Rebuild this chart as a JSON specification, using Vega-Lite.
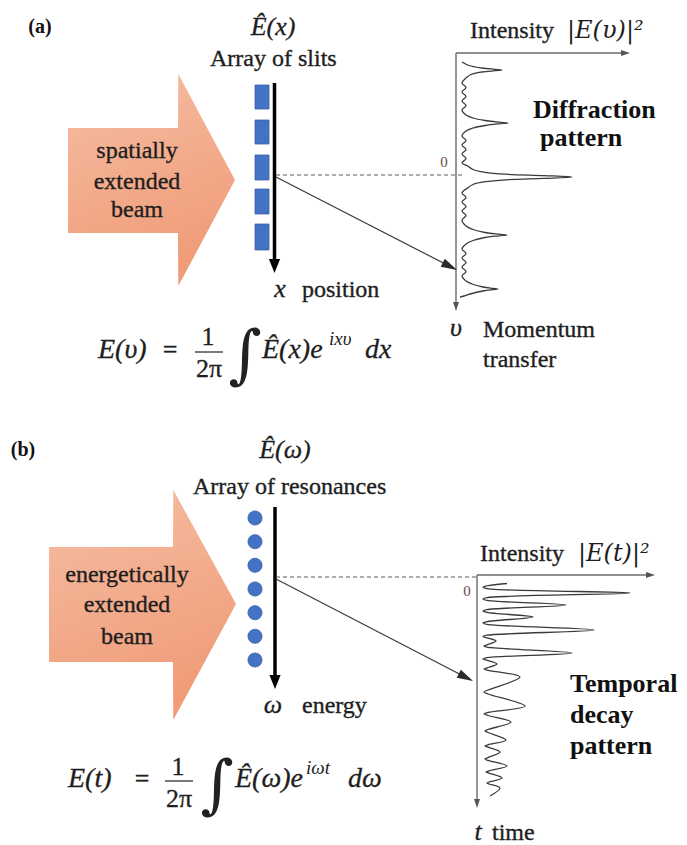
{
  "$schema": "https://vega.github.io/schema/vega-lite/v6.json",
  "width": 687,
  "height": 845,
  "autosize": {"type": "fit", "contains": "padding"},
  "padding": 0,
  "background": "white",
  "config": {"view": {"stroke": null}},
  "encoding": {
    "x": {"field": "x", "type": "quantitative", "scale": {"domain": [0, 687], "nice": false, "zero": false}, "axis": null},
    "y": {"field": "y", "type": "quantitative", "scale": {"domain": [0, 845], "nice": false, "zero": false, "reverse": true}, "axis": null}
  },
  "datasets": {
    "beam": [
      {"panel": "a", "x": 68, "y": 128, "y2": 233},
      {"panel": "a", "x": 178, "y": 128, "y2": 233},
      {"panel": "a", "x": 178.3, "y": 74, "y2": 286},
      {"panel": "a", "x": 235, "y": 180, "y2": 180},
      {"panel": "b", "x": 49, "y": 547, "y2": 662},
      {"panel": "b", "x": 173, "y": 547, "y2": 662},
      {"panel": "b", "x": 173.3, "y": 490, "y2": 720},
      {"panel": "b", "x": 236, "y": 604, "y2": 604}
    ],
    "slits": [
      {"x": 255, "x2": 269, "y": 85, "y2": 109},
      {"x": 255, "x2": 269, "y": 120, "y2": 144},
      {"x": 255, "x2": 269, "y": 155, "y2": 180},
      {"x": 255, "x2": 269, "y": 189, "y2": 214},
      {"x": 255, "x2": 269, "y": 224, "y2": 250}
    ],
    "resonances": [
      {"x": 255, "y": 518}, {"x": 255, "y": 541.7}, {"x": 255, "y": 565.3},
      {"x": 255, "y": 589}, {"x": 255, "y": 612.7}, {"x": 255, "y": 636.3},
      {"x": 255, "y": 660}
    ],
    "shafts": [
      {"x": 274.5, "y": 83, "x2": 274.5, "y2": 262},
      {"x": 275, "y": 507, "x2": 275, "y2": 678}
    ],
    "rays": [
      {"x": 276, "y": 177, "x2": 455, "y2": 269},
      {"x": 276, "y": 579, "x2": 471, "y2": 680}
    ],
    "guides": [
      {"x": 276, "y": 175, "x2": 463, "y2": 175},
      {"x": 276, "y": 577, "x2": 477, "y2": 577}
    ],
    "axes": [
      {"x": 456, "y": 53, "x2": 456, "y2": 304},
      {"x": 456, "y": 53, "x2": 624, "y2": 53},
      {"x": 477, "y": 575, "x2": 477, "y2": 801},
      {"x": 477, "y": 575, "x2": 649, "y2": 575}
    ],
    "fractionBars": [
      {"x": 195, "y": 352, "x2": 223, "y2": 352},
      {"x": 165, "y": 781, "x2": 193, "y2": 781}
    ],
    "shaftHeads": [{"x": 274.5, "y": 273}, {"x": 275, "y": 689}],
    "rayHeads": [{"x": 457, "y": 270}, {"x": 473, "y": 681}],
    "axisHeadsRight": [{"x": 630, "y": 53}, {"x": 655, "y": 575}],
    "axisHeadsDown": [{"x": 456, "y": 311}, {"x": 477, "y": 808}],
    "diffraction": [
      {"i": 1, "x": 462, "y": 62}, {"i": 2, "x": 469, "y": 65.5}, {"i": 3, "x": 482, "y": 68},
      {"i": 4, "x": 495, "y": 69.3}, {"i": 5, "x": 502, "y": 70}, {"i": 6, "x": 495, "y": 70.7},
      {"i": 7, "x": 482, "y": 72}, {"i": 8, "x": 471, "y": 74.5}, {"i": 9, "x": 466, "y": 78},
      {"i": 10, "x": 462, "y": 83}, {"i": 11, "x": 466, "y": 87.5}, {"i": 12, "x": 462, "y": 92},
      {"i": 13, "x": 466, "y": 96.5}, {"i": 14, "x": 462, "y": 101}, {"i": 15, "x": 466, "y": 105.5},
      {"i": 16, "x": 462, "y": 110}, {"i": 17, "x": 466, "y": 115}, {"i": 18, "x": 473, "y": 118},
      {"i": 19, "x": 485, "y": 120.5}, {"i": 20, "x": 499, "y": 122.2}, {"i": 21, "x": 508, "y": 123},
      {"i": 22, "x": 499, "y": 123.8}, {"i": 23, "x": 485, "y": 125.5}, {"i": 24, "x": 473, "y": 128},
      {"i": 25, "x": 466, "y": 131}, {"i": 26, "x": 462, "y": 136}, {"i": 27, "x": 466, "y": 140.5},
      {"i": 28, "x": 462, "y": 145}, {"i": 29, "x": 466, "y": 149.5}, {"i": 30, "x": 462, "y": 154},
      {"i": 31, "x": 466, "y": 158.5}, {"i": 32, "x": 462, "y": 163}, {"i": 33, "x": 467.6, "y": 166},
      {"i": 34, "x": 473, "y": 169.5}, {"i": 35, "x": 485, "y": 172.3}, {"i": 36, "x": 508, "y": 174.3},
      {"i": 37, "x": 544, "y": 175.6}, {"i": 38, "x": 572, "y": 177}, {"i": 39, "x": 544, "y": 178.4},
      {"i": 40, "x": 508, "y": 179.7}, {"i": 41, "x": 485, "y": 181.7}, {"i": 42, "x": 473, "y": 184.5},
      {"i": 43, "x": 467.6, "y": 188}, {"i": 44, "x": 462, "y": 193}, {"i": 45, "x": 466, "y": 197.5},
      {"i": 46, "x": 462, "y": 202}, {"i": 47, "x": 466, "y": 206.5}, {"i": 48, "x": 462, "y": 211},
      {"i": 49, "x": 466, "y": 215.5}, {"i": 50, "x": 462, "y": 220}, {"i": 51, "x": 466, "y": 226},
      {"i": 52, "x": 473, "y": 229.5}, {"i": 53, "x": 485, "y": 232.5}, {"i": 54, "x": 499, "y": 234.2},
      {"i": 55, "x": 507, "y": 235}, {"i": 56, "x": 499, "y": 235.8}, {"i": 57, "x": 485, "y": 237.5},
      {"i": 58, "x": 473, "y": 240.5}, {"i": 59, "x": 466, "y": 244}, {"i": 60, "x": 462, "y": 249},
      {"i": 61, "x": 466, "y": 253.5}, {"i": 62, "x": 462, "y": 258}, {"i": 63, "x": 466, "y": 262.5},
      {"i": 64, "x": 462, "y": 267}, {"i": 65, "x": 466, "y": 271.5}, {"i": 66, "x": 462, "y": 276},
      {"i": 67, "x": 466, "y": 281}, {"i": 68, "x": 472, "y": 284}, {"i": 69, "x": 483, "y": 287},
      {"i": 70, "x": 493, "y": 288.4}, {"i": 71, "x": 498, "y": 289}, {"i": 72, "x": 493, "y": 289.6},
      {"i": 73, "x": 483, "y": 291}, {"i": 74, "x": 472, "y": 293.5}, {"i": 75, "x": 464, "y": 296},
      {"i": 76, "x": 460, "y": 297}
    ],
    "decay": [
      {"i": 1, "x": 507, "y": 583.5}, {"i": 2, "x": 490, "y": 585.3}, {"i": 3, "x": 483, "y": 587},
      {"i": 4, "x": 487, "y": 588.6}, {"i": 5, "x": 630, "y": 593}, {"i": 6, "x": 487, "y": 597.6},
      {"i": 7, "x": 483, "y": 599}, {"i": 8, "x": 487, "y": 600.4}, {"i": 9, "x": 566, "y": 605},
      {"i": 10, "x": 487, "y": 609.6}, {"i": 11, "x": 483, "y": 611}, {"i": 12, "x": 487, "y": 612.4},
      {"i": 13, "x": 533, "y": 617}, {"i": 14, "x": 487, "y": 621.6}, {"i": 15, "x": 483, "y": 623},
      {"i": 16, "x": 487, "y": 624.4}, {"i": 17, "x": 594, "y": 630}, {"i": 18, "x": 487, "y": 635.2},
      {"i": 19, "x": 483, "y": 636.5}, {"i": 20, "x": 487, "y": 637.8}, {"i": 21, "x": 496, "y": 641},
      {"i": 22, "x": 487, "y": 644.8}, {"i": 23, "x": 484, "y": 646}, {"i": 24, "x": 487, "y": 647.2},
      {"i": 25, "x": 572, "y": 653}, {"i": 26, "x": 487, "y": 657.7}, {"i": 27, "x": 483, "y": 659},
      {"i": 28, "x": 487, "y": 660.3}, {"i": 29, "x": 497, "y": 664}, {"i": 30, "x": 487, "y": 667.8},
      {"i": 31, "x": 484, "y": 669}, {"i": 32, "x": 487, "y": 670.2}, {"i": 33, "x": 520, "y": 677},
      {"i": 34, "x": 488, "y": 690}, {"i": 35, "x": 484, "y": 692}, {"i": 36, "x": 488, "y": 694},
      {"i": 37, "x": 525, "y": 706}, {"i": 38, "x": 488, "y": 712.5}, {"i": 39, "x": 484, "y": 714},
      {"i": 40, "x": 488, "y": 715.5}, {"i": 41, "x": 511, "y": 722}, {"i": 42, "x": 488, "y": 729.5},
      {"i": 43, "x": 485, "y": 731}, {"i": 44, "x": 488, "y": 732.5}, {"i": 45, "x": 506, "y": 740},
      {"i": 46, "x": 488, "y": 744.8}, {"i": 47, "x": 485, "y": 746}, {"i": 48, "x": 488, "y": 747.2},
      {"i": 49, "x": 500, "y": 752}, {"i": 50, "x": 488, "y": 757.6}, {"i": 51, "x": 485, "y": 759},
      {"i": 52, "x": 488, "y": 760.4}, {"i": 53, "x": 507, "y": 766}, {"i": 54, "x": 489, "y": 770.8},
      {"i": 55, "x": 486, "y": 772}, {"i": 56, "x": 489, "y": 773.2}, {"i": 57, "x": 502, "y": 778},
      {"i": 58, "x": 489, "y": 782}, {"i": 59, "x": 487, "y": 783}, {"i": 60, "x": 489, "y": 784},
      {"i": 61, "x": 500, "y": 788}, {"i": 62, "x": 490, "y": 796}
    ],
    "panelTags": [
      {"x": 40, "y": 33, "text": "(a)"},
      {"x": 23, "y": 456, "text": "(b)"}
    ],
    "beamText": [
      {"x": 137, "y": 158, "text": "spatially"},
      {"x": 137, "y": 189, "text": "extended"},
      {"x": 137, "y": 217, "text": "beam"},
      {"x": 127, "y": 582, "text": "energetically"},
      {"x": 127, "y": 612, "text": "extended"},
      {"x": 127, "y": 644, "text": "beam"}
    ],
    "plainText": [
      {"x": 210, "y": 66, "text": "Array of slits"},
      {"x": 302, "y": 297, "text": "position"},
      {"x": 470, "y": 38, "text": "Intensity"},
      {"x": 483, "y": 337, "text": "Momentum"},
      {"x": 483, "y": 367, "text": "transfer"},
      {"x": 193, "y": 494, "text": "Array of resonances"},
      {"x": 302, "y": 713, "text": "energy"},
      {"x": 480, "y": 561, "text": "Intensity"},
      {"x": 492, "y": 840, "text": "time"}
    ],
    "boldText": [
      {"x": 533, "y": 118, "text": "Diffraction"},
      {"x": 540, "y": 146, "text": "pattern"},
      {"x": 570, "y": 692, "text": "Temporal"},
      {"x": 570, "y": 723, "text": "decay"},
      {"x": 570, "y": 754, "text": "pattern"}
    ],
    "mathSymbols": [
      {"x": 273, "y": 35, "text": "Ê(x)"},
      {"x": 285, "y": 458, "text": "Ê(ω)"},
      {"x": 280, "y": 297, "text": "x"},
      {"x": 273, "y": 713, "text": "ω"},
      {"x": 456, "y": 336, "text": "υ"},
      {"x": 478, "y": 840, "text": "t"}
    ],
    "intensityMath": [
      {"x": 567, "y": 38, "text": "|E(υ)|²"},
      {"x": 578, "y": 561, "text": "|E(t)|²"}
    ],
    "formulaItalic": [
      {"x": 98, "y": 358, "text": "E(υ)"},
      {"x": 262, "y": 358, "text": "Ê(x)e"},
      {"x": 365, "y": 358, "text": "dx"},
      {"x": 68, "y": 787, "text": "E(t)"},
      {"x": 235, "y": 787, "text": "Ê(ω)e"},
      {"x": 348, "y": 787, "text": "dω"}
    ],
    "formulaExponent": [
      {"x": 329, "y": 345, "text": "ixυ"},
      {"x": 306, "y": 774, "text": "iωt"}
    ],
    "formulaUpright": [
      {"x": 170, "y": 358, "text": "="},
      {"x": 208, "y": 345, "text": "1"},
      {"x": 209, "y": 377, "text": "2π"},
      {"x": 142, "y": 787, "text": "="},
      {"x": 178, "y": 775, "text": "1"},
      {"x": 179, "y": 807, "text": "2π"}
    ],
    "integrals": [
      {"x": 245, "y": 376, "text": "∫"},
      {"x": 217, "y": 806, "text": "∫"}
    ],
    "origins": [
      {"x": 444, "y": 167, "text": "0"},
      {"x": 467, "y": 596, "text": "0"}
    ]
  },
  "layer": [
    {
      "data": {"name": "beam"},
      "transform": [{"filter": "datum.panel === 'a'"}],
      "mark": {"type": "area", "opacity": 1, "color": {"gradient": "linear", "x1": 0, "y1": 0, "x2": 0.3, "y2": 1, "stops": [{"offset": 0, "color": "#F6BEA4"}, {"offset": 1, "color": "#F09C79"}]}},
      "encoding": {"y2": {"field": "y2"}}
    },
    {
      "data": {"name": "beam"},
      "transform": [{"filter": "datum.panel === 'b'"}],
      "mark": {"type": "area", "opacity": 1, "color": {"gradient": "linear", "x1": 0, "y1": 0, "x2": 0.3, "y2": 1, "stops": [{"offset": 0, "color": "#F6BEA4"}, {"offset": 1, "color": "#F09C79"}]}},
      "encoding": {"y2": {"field": "y2"}}
    },
    {
      "data": {"name": "slits"},
      "mark": {"type": "rect", "color": "#4472C4", "stroke": "#3960A8", "strokeWidth": 0.8},
      "encoding": {"x2": {"field": "x2"}, "y2": {"field": "y2"}}
    },
    {
      "data": {"name": "resonances"},
      "mark": {"type": "point", "shape": "circle", "filled": true, "opacity": 1, "size": 200, "color": "#4472C4", "stroke": "#3960A8", "strokeWidth": 0.8}
    },
    {
      "data": {"name": "shafts"},
      "mark": {"type": "rule", "color": "#000000", "strokeWidth": 3.5},
      "encoding": {"x2": {"field": "x2"}, "y2": {"field": "y2"}}
    },
    {
      "data": {"name": "rays"},
      "mark": {"type": "rule", "color": "#3a3a3a", "strokeWidth": 1.2},
      "encoding": {"x2": {"field": "x2"}, "y2": {"field": "y2"}}
    },
    {
      "data": {"name": "guides"},
      "mark": {"type": "rule", "color": "#5a5a5a", "strokeWidth": 1, "strokeDash": [4, 3]},
      "encoding": {"x2": {"field": "x2"}, "y2": {"field": "y2"}}
    },
    {
      "data": {"name": "axes"},
      "mark": {"type": "rule", "color": "#6a6a6a", "strokeWidth": 1.4},
      "encoding": {"x2": {"field": "x2"}, "y2": {"field": "y2"}}
    },
    {
      "data": {"name": "fractionBars"},
      "mark": {"type": "rule", "color": "#222222", "strokeWidth": 1.2},
      "encoding": {"x2": {"field": "x2"}, "y2": {"field": "y2"}}
    },
    {
      "data": {"name": "diffraction"},
      "mark": {"type": "line", "interpolate": "catmull-rom", "color": "#3a3a3a", "strokeWidth": 1.3},
      "encoding": {"order": {"field": "i", "type": "quantitative"}}
    },
    {
      "data": {"name": "decay"},
      "mark": {"type": "line", "interpolate": "catmull-rom", "color": "#3a3a3a", "strokeWidth": 1.3},
      "encoding": {"order": {"field": "i", "type": "quantitative"}}
    },
    {
      "data": {"name": "shaftHeads"},
      "mark": {"type": "point", "shape": "M0,0L-0.4,-1L0.4,-1Z", "filled": true, "opacity": 1, "size": 784, "color": "#000000", "strokeWidth": 0}
    },
    {
      "data": {"name": "rayHeads"},
      "mark": {"type": "point", "shape": "M0,0L-1,-0.28L-1,0.28Z", "angle": 27.3, "filled": true, "opacity": 1, "size": 1024, "color": "#2a2a2a", "strokeWidth": 0}
    },
    {
      "data": {"name": "axisHeadsRight"},
      "mark": {"type": "point", "shape": "M0,0L-1,-0.33L-1,0.33Z", "filled": true, "opacity": 1, "size": 324, "color": "#555555", "strokeWidth": 0}
    },
    {
      "data": {"name": "axisHeadsDown"},
      "mark": {"type": "point", "shape": "M0,0L-0.33,-1L0.33,-1Z", "filled": true, "opacity": 1, "size": 324, "color": "#555555", "strokeWidth": 0}
    },
    {
      "data": {"name": "panelTags"},
      "mark": {"type": "text", "font": "Liberation Serif", "fontWeight": "bold", "fontSize": 20, "align": "center", "baseline": "alphabetic", "color": "#111111"},
      "encoding": {"text": {"field": "text"}}
    },
    {
      "data": {"name": "beamText"},
      "mark": {"type": "text", "font": "Liberation Serif", "fontSize": 24, "align": "center", "baseline": "alphabetic", "color": "#1e1e1e", "stroke": "#1e1e1e", "strokeWidth": 0.35},
      "encoding": {"text": {"field": "text"}}
    },
    {
      "data": {"name": "plainText"},
      "mark": {"type": "text", "font": "Liberation Serif", "fontSize": 24, "align": "left", "baseline": "alphabetic", "color": "#1e1e1e", "stroke": "#1e1e1e", "strokeWidth": 0.35},
      "encoding": {"text": {"field": "text"}}
    },
    {
      "data": {"name": "boldText"},
      "mark": {"type": "text", "font": "Liberation Serif", "fontWeight": "bold", "fontSize": 26, "align": "left", "baseline": "alphabetic", "color": "#111111"},
      "encoding": {"text": {"field": "text"}}
    },
    {
      "data": {"name": "mathSymbols"},
      "mark": {"type": "text", "font": "Liberation Serif", "fontStyle": "italic", "fontSize": 26, "align": "center", "baseline": "alphabetic", "color": "#1e1e1e", "stroke": "#1e1e1e", "strokeWidth": 0.3},
      "encoding": {"text": {"field": "text"}}
    },
    {
      "data": {"name": "intensityMath"},
      "mark": {"type": "text", "font": "DejaVu Serif", "fontStyle": "italic", "fontSize": 24, "align": "left", "baseline": "alphabetic", "color": "#1e1e1e"},
      "encoding": {"text": {"field": "text"}}
    },
    {
      "data": {"name": "formulaItalic"},
      "mark": {"type": "text", "font": "Liberation Serif", "fontStyle": "italic", "fontSize": 28, "align": "left", "baseline": "alphabetic", "color": "#1e1e1e", "stroke": "#1e1e1e", "strokeWidth": 0.3},
      "encoding": {"text": {"field": "text"}}
    },
    {
      "data": {"name": "formulaExponent"},
      "mark": {"type": "text", "font": "Liberation Serif", "fontStyle": "italic", "fontSize": 19, "align": "left", "baseline": "alphabetic", "color": "#1e1e1e"},
      "encoding": {"text": {"field": "text"}}
    },
    {
      "data": {"name": "formulaUpright"},
      "mark": {"type": "text", "font": "Liberation Serif", "fontSize": 26, "align": "center", "baseline": "alphabetic", "color": "#1e1e1e", "stroke": "#1e1e1e", "strokeWidth": 0.3},
      "encoding": {"text": {"field": "text"}}
    },
    {
      "data": {"name": "integrals"},
      "mark": {"type": "text", "font": "DejaVu Serif", "fontSize": 64, "align": "center", "baseline": "alphabetic", "color": "#222222"},
      "encoding": {"text": {"field": "text"}}
    },
    {
      "data": {"name": "origins"},
      "mark": {"type": "text", "font": "Liberation Serif", "fontSize": 15, "align": "center", "baseline": "alphabetic", "color": "#6b4a38"},
      "encoding": {"text": {"field": "text"}}
    }
  ]
}
